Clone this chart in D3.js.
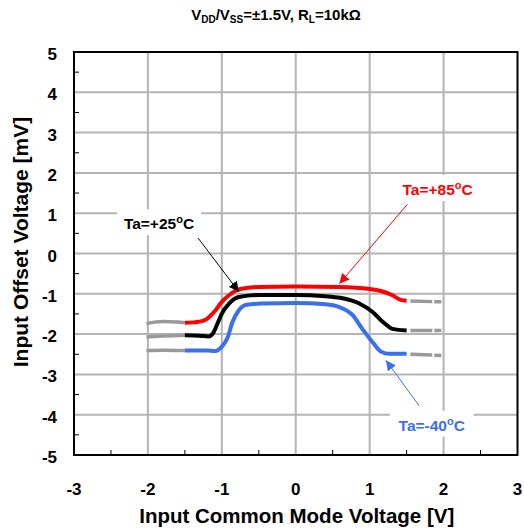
<!DOCTYPE html>
<html>
<head>
<meta charset="utf-8">
<script src="https://cdn.jsdelivr.net/npm/d3@7"></script>
<style>
  body { margin: 0; background: #fff; }
  text { font-family: "Liberation Sans", Arial, sans-serif; font-weight: bold; }
</style>
</head>
<body>
<div id="chart"></div>
<script>
// axis ticks
const xTicks = [-3, -2, -1, 0, 1, 2, 3];
const yTicks = [5, 4, 3, 2, 1, 0, -1, -2, -3, -4, -5];

// Ta=+85C  [Vcm, Vos]
const red_solid = [[-1.5,-1.72],[-1.3,-1.69],[-1.2,-1.62],[-1.1,-1.44],[-1.0,-1.2],[-0.9,-1.03],[-0.75,-0.88],[-0.5,-0.83],[0,-0.82],[0.6,-0.83],[1.0,-0.88],[1.15,-0.93],[1.3,-1.03],[1.42,-1.15],[1.5,-1.17]];
const red_left = [[-2.02,-1.74],[-1.8,-1.69],[-1.6,-1.7],[-1.5,-1.72]];
const red_right = [[1.55,-1.18],[1.97,-1.2]];

// Ta=+25C
const black_solid = [[-1.5,-2.03],[-1.3,-2.04],[-1.18,-2.06],[-1.12,-1.98],[-1.05,-1.7],[-1.0,-1.49],[-0.9,-1.24],[-0.77,-1.08],[-0.5,-1.03],[0,-1.03],[0.4,-1.06],[0.6,-1.1],[0.86,-1.24],[1.04,-1.45],[1.18,-1.7],[1.31,-1.87],[1.5,-1.91]];
const black_left = [[-2.02,-2.07],[-1.8,-2.05],[-1.5,-2.03]];
const black_right = [[1.55,-1.91],[1.97,-1.91]];

// Ta=-40C
const blue_solid = [[-1.5,-2.41],[-1.2,-2.41],[-1.09,-2.42],[-1.0,-2.31],[-0.92,-2.08],[-0.86,-1.72],[-0.77,-1.41],[-0.68,-1.28],[-0.46,-1.24],[0,-1.23],[0.4,-1.26],[0.59,-1.33],[0.77,-1.53],[0.9,-1.87],[1.04,-2.2],[1.15,-2.43],[1.27,-2.49],[1.5,-2.49]];
const blue_left = [[-2.02,-2.41],[-1.8,-2.4],[-1.5,-2.41]];
const blue_right = [[1.55,-2.5],[1.97,-2.53]];

const width = 524, height = 528;
const margin = { top: 52, right: 6.5, bottom: 73, left: 74 };
const w = width - margin.left - margin.right;
const h = height - margin.top - margin.bottom;

const svg = d3.select("#chart").append("svg")
  .attr("width", width)
  .attr("height", height);

const x = d3.scaleLinear().domain([-3, 3]).range([0, w]);
const y = d3.scaleLinear().domain([-5, 5]).range([h, 0]);

const g = svg.append("g").attr("transform", `translate(${margin.left},${margin.top})`);

// grid
g.selectAll(".vgrid").data(xTicks.slice(1, -1)).enter().append("line")
  .attr("x1", d => x(d)).attr("x2", d => x(d))
  .attr("y1", 0).attr("y2", h)
  .attr("stroke", "#b4b4b4").attr("stroke-width", 2);
g.selectAll(".hgrid").data(yTicks.slice(1, -1)).enter().append("line")
  .attr("x1", 0).attr("x2", w)
  .attr("y1", d => y(d)).attr("y2", d => y(d))
  .attr("stroke", "#b4b4b4").attr("stroke-width", 2);

// minor ticks inside
const xMinor = d3.range(-2.5, 3, 1);
const yMinor = d3.range(-4.5, 5, 1);
g.selectAll(".xm").data(xMinor).enter().append("line")
  .attr("x1", d => x(d)).attr("x2", d => x(d))
  .attr("y1", h).attr("y2", h - 5)
  .attr("stroke", "#000").attr("stroke-width", 1);
g.selectAll(".ym").data(yMinor).enter().append("line")
  .attr("x1", 0).attr("x2", 5)
  .attr("y1", d => y(d)).attr("y2", d => y(d))
  .attr("stroke", "#000").attr("stroke-width", 1);

// frame
g.append("rect").attr("x", 0).attr("y", 0).attr("width", w).attr("height", h)
  .attr("fill", "none").attr("stroke", "#000").attr("stroke-width", 2);

// tick labels
g.selectAll(".xl").data(xTicks).enter().append("text")
  .attr("x", d => x(d)).attr("y", h + 40)
  .attr("text-anchor", "middle").attr("font-size", 17)
  .text(d => d);
g.selectAll(".yl").data(yTicks).enter().append("text")
  .attr("x", -17).attr("y", d => y(d) + 8)
  .attr("text-anchor", "end").attr("font-size", 17)
  .text(d => d);

// axis titles
svg.append("text")
  .attr("x", margin.left + w / 2 + 1).attr("y", 523)
  .attr("text-anchor", "middle").attr("font-size", 20.5)
  .text("Input Common Mode Voltage [V]");
svg.append("text")
  .attr("transform", `translate(28,242) rotate(-90)`)
  .attr("text-anchor", "middle").attr("font-size", 21)
  .text("Input Offset Voltage [mV]");

// title
const title = svg.append("text")
  .attr("x", 276).attr("y", 20)
  .attr("text-anchor", "middle").attr("font-size", 15);
title.append("tspan").text("V");
title.append("tspan").attr("font-size", 10).attr("dy", 3).text("DD");
title.append("tspan").attr("dy", -3).text("/V");
title.append("tspan").attr("font-size", 10).attr("dy", 3).text("SS");
title.append("tspan").attr("dy", -3).text("=±1.5V, R");
title.append("tspan").attr("font-size", 10).attr("dy", 3).text("L");
title.append("tspan").attr("dy", -3).text("=10kΩ");

// curves
const line = d3.line().x(d => x(d[0])).y(d => y(d[1])).curve(d3.curveMonotoneX);
const grays = [red_left, red_right, black_left, black_right, blue_left, blue_right];
g.selectAll(".gray").data(grays).enter().append("path")
  .attr("d", line)
  .attr("fill", "none").attr("stroke", "#999").attr("stroke-width", 3.5)
  .attr("stroke-dasharray", (d, i) => i % 2 ? "22,2,7,2" : null);

const solids = [
  { d: red_solid, c: "#ff0000" },
  { d: black_solid, c: "#000000" },
  { d: blue_solid, c: "#3a6ff0" }
];
g.selectAll(".solid").data(solids).enter().append("path")
  .attr("d", s => line(s.d))
  .attr("fill", "none").attr("stroke", s => s.c).attr("stroke-width", 4);

// annotations
const notes = [
  { label: "+25", lx: -1.85, ly: 0.75, ax: -1.32, ay: 0.38, tx: -0.77, ty: -0.95, c: "#000000" },
  { label: "+85", lx: 1.92, ly: 1.6, ax: 1.51, ay: 1.22, tx: 0.59, ty: -0.75, c: "#ff0000" },
  { label: "-40", lx: 1.84, ly: -4.25, ax: 1.67, ay: -3.78, tx: 1.22, ty: -2.65, c: "#3a6ff0" }
];

notes.forEach((n, i) => {
  svg.append("defs").append("marker")
    .attr("id", "arr" + i)
    .attr("viewBox", "0 0 10 10").attr("refX", 10).attr("refY", 5)
    .attr("markerWidth", 10).attr("markerHeight", 10)
    .attr("markerUnits", "userSpaceOnUse")
    .attr("orient", "auto")
    .append("path").attr("d", "M0,0 L10,5 L0,10 z").attr("fill", n.c);

  g.append("line")
    .attr("x1", x(n.ax)).attr("y1", y(n.ay))
    .attr("x2", x(n.tx)).attr("y2", y(n.ty))
    .attr("stroke", n.c).attr("stroke-width", 1)
    .attr("marker-end", `url(#arr${i})`);

  g.append("rect")
    .attr("x", x(n.lx) - 42).attr("y", y(n.ly) - 14)
    .attr("width", 84).attr("height", 26)
    .attr("fill", "#fff");

  const t = g.append("text")
    .attr("x", x(n.lx)).attr("y", y(n.ly) + 6)
    .attr("text-anchor", "middle").attr("font-size", 15.5)
    .attr("fill", n.c);
  t.append("tspan").text("Ta=" + n.label);
  t.append("tspan").attr("font-size", 11).attr("dy", -6).text("o");
  t.append("tspan").attr("dy", 6).text("C");
});
</script>
</body>
</html>
